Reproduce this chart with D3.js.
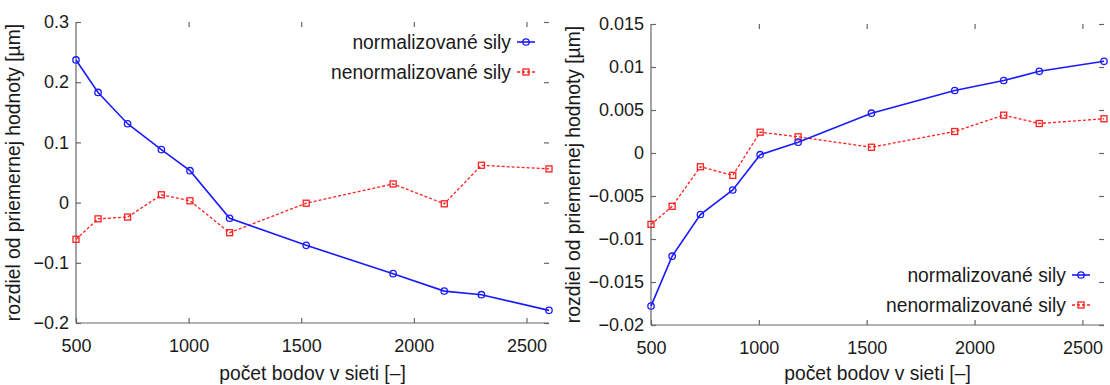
<!DOCTYPE html>
<html><head><meta charset="utf-8">
<script src="https://cdn.jsdelivr.net/npm/d3@7"></script>
<style>
body{margin:0;background:#fff;}
svg{display:block;font-family:"Liberation Sans",Arial,sans-serif;}
</style></head>
<body><svg id="c" width="1110" height="385"></svg>
<script>
// ---- data ----
const gridPoints = [500, 598, 729, 879, 1006, 1182, 1522, 1908, 2135, 2300, 2600];
const leftNormalized   = [0.237, 0.183, 0.131, 0.088, 0.053, -0.026, -0.071, -0.118, -0.147, -0.153, -0.179];
const leftUnnormalized = [-0.061, -0.027, -0.024, 0.013, 0.003, -0.050, -0.001, 0.031, -0.002, 0.062, 0.056];
const rightNormalized   = [-0.0178, -0.0120, -0.00715, -0.0043, -0.0002, 0.00126, 0.00463, 0.00727, 0.00843, 0.0095, 0.01066];
const rightUnnormalized = [-0.0083, -0.0062, -0.0016, -0.0026, 0.00242, 0.00188, 0.00067, 0.0025, 0.0044, 0.00343, 0.00398];
const xTicks = [500, 1000, 1500, 2000, 2500];
const xTickLabels = ["500", "1000", "1500", "2000", "2500"];
const leftYTicks = [0.3, 0.2, 0.1, 0, -0.1, -0.2];
const leftYTickLabels = ["0.3", "0.2", "0.1", "0", "\u22120.1", "\u22120.2"];
const rightYTicks = [0.015, 0.01, 0.005, 0, -0.005, -0.01, -0.015, -0.02];
const rightYTickLabels = ["0.015", "0.01", "0.005", "0", "\u22120.005", "\u22120.01", "\u22120.015", "\u22120.02"];
const seriesNames = ["normalizované sily", "nenormalizované sily"];
const xTitle = "počet bodov v sieti [–]";
const yTitle = "rozdiel od priemernej hodnoty [µm]";

const svg = d3.select("#c");
const AX = "#666", TXT = "#1a1a1a", BLUE = "#1a1aff", RED = "#ff2020";
const TICKFS = "18px", LABFS = "19.3px";

function panel(cfg) {
  const x = d3.scaleLinear().domain([500, 2600]).range([cfg.left, cfg.right]);
  const y = d3.scaleLinear().domain(cfg.yDomain).range([cfg.bottom, cfg.top]);
  const g = svg.append("g");
  const fmtX = d => xTickLabels[xTicks.indexOf(d)];
  const fmtY = d => cfg.yLabels[cfg.yTicks.indexOf(d)];

  const gb = g.append("g").attr("transform", `translate(0,${cfg.bottom})`)
    .call(d3.axisBottom(x).tickValues(xTicks).tickFormat(fmtX).tickSizeInner(-5).tickSizeOuter(0).tickPadding(16));
  const gl = g.append("g").attr("transform", `translate(${cfg.left},0)`)
    .call(d3.axisLeft(y).tickValues(cfg.yTicks).tickFormat(fmtY).tickSizeInner(-5).tickSizeOuter(0).tickPadding(7));
  const gt = g.append("g").attr("transform", `translate(0,${cfg.top})`)
    .call(d3.axisTop(x).tickValues(xTicks.filter(v => v > 500)).tickFormat("").tickSizeInner(-5).tickSizeOuter(0));
  gt.select(".domain").remove();
  const gr = g.append("g").attr("transform", `translate(${cfg.right},0)`)
    .call(d3.axisRight(y).tickValues(cfg.yTicks).tickFormat("").tickSizeInner(-5).tickSizeOuter(0));
  gr.select(".domain").remove();
  [gb, gl, gt, gr].forEach(a => {
    a.selectAll("path,line").attr("stroke", AX).attr("stroke-width", 1.2);
    a.selectAll("text").attr("fill", TXT).style("font-size", TICKFS)
      .style("font-family", '"Liberation Sans",Arial,sans-serif');
  });
  gl.select(".domain").attr("d", `M0,${cfg.top}V${cfg.bottom}`);
  gb.select(".domain").attr("d", `M${cfg.left},0H${cfg.right}`);

  g.append("text").attr("x", (cfg.left + cfg.right) / 2).attr("y", 380)
    .attr("text-anchor", "middle").attr("fill", TXT).style("font-size", LABFS).text(xTitle);
  g.append("text").attr("transform", `translate(${cfg.yTitleX},${(cfg.top + cfg.bottom) / 2}) rotate(-90)`)
    .attr("text-anchor", "middle").attr("fill", TXT).style("font-size", LABFS).text(yTitle);

  const line = d3.line().x((d, i) => x(gridPoints[i])).y(d => y(d));
  g.append("path").datum(cfg.red).attr("d", line).attr("fill", "none")
    .attr("stroke", RED).attr("stroke-width", 1.3).attr("stroke-dasharray", "3,2");
  g.selectAll(".sq").data(cfg.red).enter().append("rect")
    .attr("x", (d, i) => x(gridPoints[i]) - 3).attr("y", d => y(d) - 3)
    .attr("width", 6).attr("height", 6).attr("fill", "none").attr("stroke", RED).attr("stroke-width", 1.3);
  g.append("path").datum(cfg.blue).attr("d", line).attr("fill", "none")
    .attr("stroke", BLUE).attr("stroke-width", 1.6);
  g.selectAll(".ci").data(cfg.blue).enter().append("circle")
    .attr("cx", (d, i) => x(gridPoints[i])).attr("cy", d => y(d)).attr("r", 3.2)
    .attr("fill", "none").attr("stroke", BLUE).attr("stroke-width", 1.3);

  const lx1 = cfg.right - 32, lx2 = cfg.right - 14, tx = cfg.right - 38;
  cfg.legendY.forEach((ly, k) => {
    g.append("text").attr("x", tx).attr("y", ly).attr("dy", "0.35em").attr("text-anchor", "end")
      .attr("fill", TXT).style("font-size", LABFS).text(seriesNames[k]);
    const col = k === 0 ? BLUE : RED;
    g.append("line").attr("x1", lx1).attr("x2", lx2).attr("y1", ly).attr("y2", ly)
      .attr("stroke", col).attr("stroke-width", k === 0 ? 1.6 : 1.3)
      .attr("stroke-dasharray", k === 0 ? null : "3,2");
    const mx = (lx1 + lx2) / 2;
    if (k === 0) g.append("circle").attr("cx", mx).attr("cy", ly).attr("r", 3.2)
      .attr("fill", "none").attr("stroke", col).attr("stroke-width", 1.3);
    else g.append("rect").attr("x", mx - 3).attr("y", ly - 3).attr("width", 6).attr("height", 6)
      .attr("fill", "none").attr("stroke", col).attr("stroke-width", 1.3);
  });
}

panel({left: 76, right: 549, top: 22, bottom: 323, yDomain: [-0.2, 0.3],
  yTicks: leftYTicks, yLabels: leftYTickLabels, blue: leftNormalized, red: leftUnnormalized,
  yTitleX: 20, legendY: [42, 72]});
panel({left: 651, right: 1104, top: 24, bottom: 325, yDomain: [-0.02, 0.015],
  yTicks: rightYTicks, yLabels: rightYTickLabels, blue: rightNormalized, red: rightUnnormalized,
  yTitleX: 580, legendY: [275, 305]});
</script></body></html>
